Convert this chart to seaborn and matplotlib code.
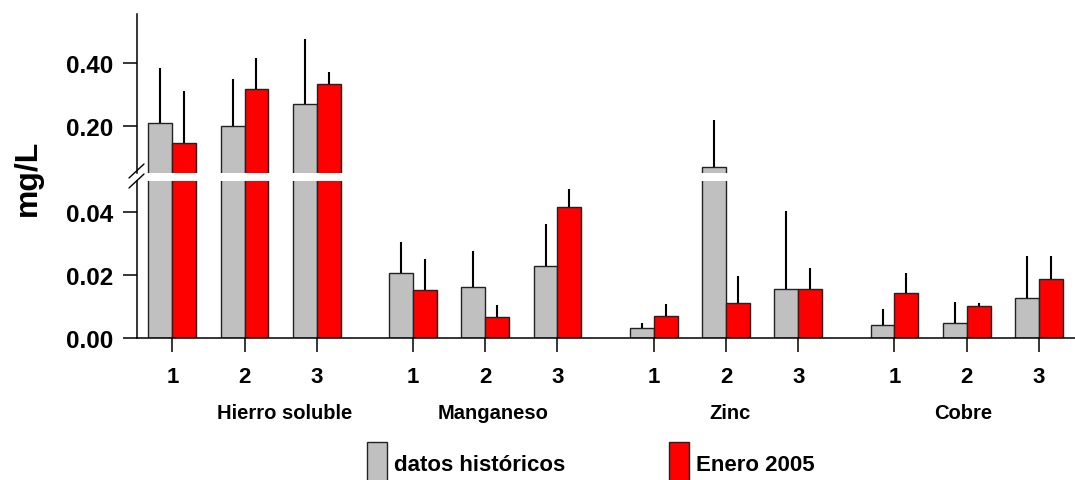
import numpy as np
import pandas as pd
import matplotlib
matplotlib.use('Agg')
import matplotlib.pyplot as plt
from matplotlib.lines import Line2D
import seaborn as sns

# data
groups = ['Hierro soluble', 'Manganeso', 'Zinc', 'Cobre']
sites = ['1', '2', '3']
series = ['datos históricos', 'Enero 2005']

hist_mean = [0.210, 0.200, 0.270,
             0.0205, 0.0163, 0.0230,
             0.0031, 0.068, 0.0155,
             0.0041, 0.0049, 0.0126]
hist_err = [0.173, 0.150, 0.207,
            0.0099, 0.0113, 0.0131,
            0.0016, 0.149, 0.0248,
            0.0050, 0.0064, 0.0133]
ene_mean = [0.146, 0.318, 0.334,
            0.0153, 0.0068, 0.0417,
            0.0071, 0.0110, 0.0155,
            0.0142, 0.0101, 0.0188]
ene_err = [0.164, 0.099, 0.036,
           0.0097, 0.0037, 0.0056,
           0.0036, 0.0086, 0.0066,
           0.0063, 0.0009, 0.0071]

colors = {'datos históricos': '#c0c0c0', 'Enero 2005': '#ff0000'}

sns.set_style('ticks')
plt.rcParams['font.family'] = ['Liberation Sans', 'DejaVu Sans']
plt.rcParams['font.weight'] = 'bold'
plt.rcParams['text.color'] = 'black'
plt.rcParams['axes.edgecolor'] = 'black'
plt.rcParams['xtick.color'] = 'black'
plt.rcParams['ytick.color'] = 'black'

# x positions: 3 sites per group, groups separated by a wider gap
gap = 10 / 3
pos = [g * gap + i for g in range(len(groups)) for i in range(len(sites))]

df = pd.DataFrame({
    'pos': pos * 2,
    'serie': [series[0]] * len(pos) + [series[1]] * len(pos),
    'valor': hist_mean + ene_mean,
})

W, H = 1075, 481
fig = plt.figure(figsize=(W / 100, H / 100), dpi=100)
ax_lo = fig.add_axes([137 / W, (H - 339) / H, (W - 137) / W, 157.5 / H])
ax_hi = fig.add_axes([137 / W, (H - 174) / H, (W - 137) / W, 159 / H])

bw = 0.66
for ax in (ax_lo, ax_hi):
    sns.barplot(data=df, x='pos', y='valor', hue='serie', hue_order=series,
                palette=colors, saturation=1, native_scale=True, width=bw,
                errorbar=None, edgecolor='#222222', linewidth=1.0,
                legend=False, ax=ax)
    off = bw / 4
    ax.vlines(np.array(pos) - off, hist_mean, np.array(hist_mean) + np.array(hist_err),
              color='black', lw=1.5, zorder=3)
    ax.vlines(np.array(pos) + off, ene_mean, np.array(ene_mean) + np.array(ene_err),
              color='black', lw=1.5, zorder=3)
    ax.set_xlim(-0.489, 12.5)
    ax.set_xlabel('')
    ax.set_ylabel('')
    ax.spines['top'].set_visible(False)
    ax.spines['right'].set_visible(False)
    ax.spines['left'].set_linewidth(1.1)
    ax.spines['bottom'].set_linewidth(1.1)
    ax.tick_params(axis='y', length=10, width=1.1, pad=7, labelsize=17.5)

ax_hi.set_ylim(0.05, 0.5556)
ax_hi.set_yticks([0.20, 0.40])
ax_hi.set_yticklabels(['0.20', '0.40'])
ax_hi.spines['bottom'].set_visible(False)
ax_hi.set_xticks([])

ax_lo.set_ylim(0, 0.05)
ax_lo.set_yticks([0.00, 0.02, 0.04])
ax_lo.set_yticklabels(['0.00', '0.02', '0.04'])
ax_lo.set_xticks(pos)
ax_lo.set_xticklabels(sites * len(groups))
ax_lo.tick_params(axis='x', length=10, width=1.1, pad=10, labelsize=16)

# group names under the site numbers
group_x = [1.56, 4.44, 7.72, 10.95]
for name, gx in zip(groups, group_x):
    ax_lo.text(gx, -0.47, name, transform=ax_lo.get_xaxis_transform(),
               ha='center', va='center', fontsize=14.5, fontweight='bold')

fig.text(27.5 / W, 1 - 177.5 / H, 'mg/L', rotation=90, ha='center', va='center',
         fontsize=23, fontweight='bold')

# axis break marks
for y0 in (179, 189):
    fig.add_artist(Line2D([129 / W, 144 / W], [1 - y0 / H, 1 - (y0 - 14) / H],
                          color='black', lw=1.0))

fig.legend(handles=[ax_lo.containers[0], ax_lo.containers[1]], labels=series,
           loc='upper left', bbox_to_anchor=(367 / W, 1 - 443 / H), ncol=2,
           frameon=False, fontsize=16, borderpad=0, borderaxespad=0,
           handlelength=0.9, handleheight=2.5, handletextpad=0.3,
           columnspacing=4.7)

fig.savefig('out.png', dpi=100)
